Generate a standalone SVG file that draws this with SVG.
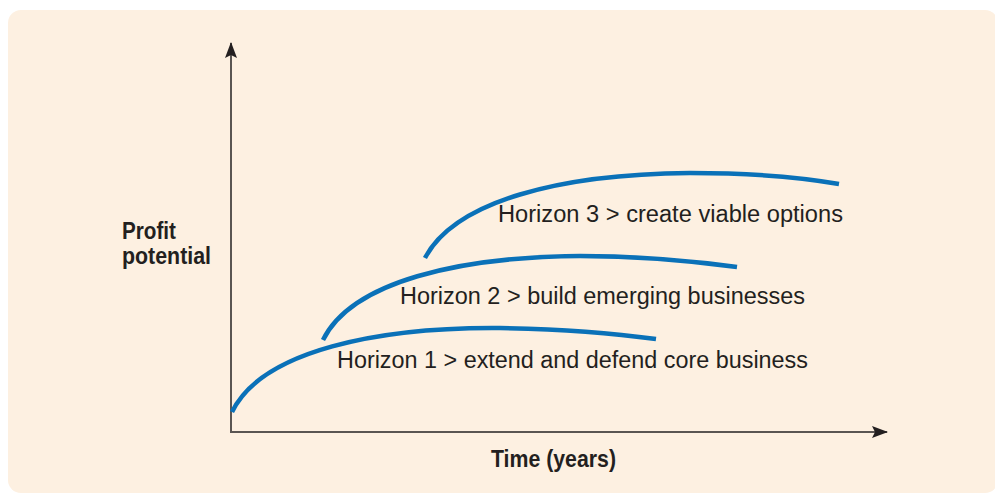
<svg xmlns="http://www.w3.org/2000/svg" width="995" height="494" viewBox="0 0 995 494">
<style>
.bg{fill:#fdf0e1;stroke:none}
.axis{fill:none;stroke:#5a5552;stroke-width:2}
.curve{fill:none;stroke:#0a71b8;stroke-width:4.5;stroke-linecap:butt}
.lbl{font-family:"Liberation Sans",Arial,sans-serif;font-size:23.5px;fill:#231f20}
.bold{font-family:"Liberation Sans",Arial,sans-serif;font-weight:bold;font-size:24px;fill:#231f20}
</style>
<defs>
<marker id="arr" viewBox="0 0 16 12" refX="15" refY="6" markerWidth="16" markerHeight="12" markerUnits="userSpaceOnUse" orient="auto">
<path d="M0,0 L16,6 L0,12 L3,6 Z" fill="#231f20"/>
</marker>
</defs>
<rect class="bg" x="8" y="10" width="990" height="483" rx="13"/>
<g id="connectors">
<line id="y-axis" class="axis" x1="231" y1="433" x2="231" y2="43" marker-end="url(#arr)"/>
<line id="x-axis" class="axis" x1="230" y1="432" x2="887" y2="432" marker-end="url(#arr)"/>
</g>
<g id="horizon1">
<path class="curve" d="M232,412 C262,350 380,327 500,328 C570,329 620,334 656,339"/>
<text class="lbl" x="337" y="368" textLength="471" lengthAdjust="spacingAndGlyphs">Horizon 1 &gt; extend and defend core business</text>
</g>
<g id="horizon2">
<path class="curve" d="M323,340 C352,281 460,257 580,256 C650,256 700,262 737,267"/>
<text class="lbl" x="400" y="304" textLength="405" lengthAdjust="spacingAndGlyphs">Horizon 2 &gt; build emerging businesses</text>
</g>
<g id="horizon3">
<path class="curve" d="M425,258 C455,201 560,174 690,173 C760,173 805,178 839,184"/>
<text class="lbl" x="498" y="222" textLength="345" lengthAdjust="spacingAndGlyphs">Horizon 3 &gt; create viable options</text>
</g>
<g id="y-label">
<text class="bold" x="122" y="239" textLength="54" lengthAdjust="spacingAndGlyphs">Profit</text>
<text class="bold" x="122" y="264" textLength="89" lengthAdjust="spacingAndGlyphs">potential</text>
</g>
<g id="x-label">
<text class="bold" x="491" y="467" textLength="125" lengthAdjust="spacingAndGlyphs">Time (years)</text>
</g>
</svg>
